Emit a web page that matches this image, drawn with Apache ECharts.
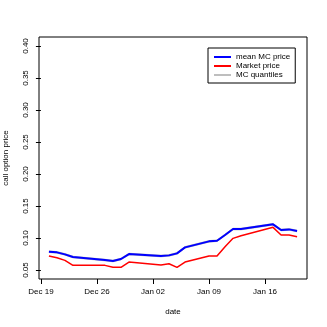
<!DOCTYPE html>
<html>
<head>
<meta charset="utf-8">
<script src="https://cdn.jsdelivr.net/npm/echarts@6/dist/echarts.min.js"></script>
<style>html,body{margin:0;padding:0;background:#fff}#c{width:327px;height:327px}</style>
</head>
<body>
<div id="c"></div>
<script>
var dates = ["2016-12-20","2016-12-21","2016-12-22","2016-12-23","2016-12-27","2016-12-28","2016-12-29","2016-12-30",
  "2017-01-03","2017-01-04","2017-01-05","2017-01-06","2017-01-09","2017-01-10","2017-01-11","2017-01-12","2017-01-13",
  "2017-01-17","2017-01-18","2017-01-19","2017-01-20"];
var meanMC = [0.0786,0.0776,0.0745,0.0703,0.0656,0.0641,0.0672,0.0750,
  0.0719,0.0729,0.0760,0.0854,0.0948,0.0958,0.1047,0.1140,0.1140,
  0.1214,0.1125,0.1135,0.1110];
var market = [0.0719,0.0693,0.0651,0.0573,0.0573,0.0542,0.0542,0.0625,
  0.0580,0.0599,0.0542,0.0625,0.0719,0.0719,0.0865,0.0995,0.1036,
  0.1167,0.1047,0.1047,0.1021];
var qUpper = [0.0798,0.0788,0.0757,0.0715,0.0668,0.0653,0.0684,0.0762,
  0.0731,0.0741,0.0772,0.0866,0.0960,0.0970,0.1059,0.1152,0.1152,
  0.1226,0.1137,0.1147,0.1122];
var qLower = [0.0774,0.0764,0.0733,0.0691,0.0644,0.0629,0.0660,0.0738,
  0.0707,0.0717,0.0748,0.0842,0.0936,0.0946,0.1035,0.1128,0.1128,
  0.1202,0.1113,0.1123,0.1098];
var xTickDates = ["2016-12-19","2016-12-26","2017-01-02","2017-01-09","2017-01-16"];
var xTickLabels = ["Dec 19","Dec 26","Jan 02","Jan 09","Jan 16"];
var yTicks = [0.05,0.10,0.15,0.20,0.25,0.30,0.35,0.40];

var origin = Date.UTC(2016,11,19);
function dayOf(s){var p=s.split('-');return (Date.UTC(+p[0],+p[1]-1,+p[2])-origin)/86400000;}
var xs = dates.map(dayOf);
var xTickVals = xTickDates.map(dayOf);
function pairs(arr){return arr.map(function(v,i){return [xs[i],v];});}
var span = xs[xs.length-1]-xs[0];
var xmin = xs[0]-0.04*span, xmax = xs[xs.length-1]+0.04*span;
var ymin = 0.05-0.04*0.35, ymax = 0.40+0.04*0.35;

var font = 'Liberation Sans, Arial, sans-serif';
var chart = echarts.init(document.getElementById('c'), null, {renderer:'canvas'});
chart.setOption({
  animation:false,
  backgroundColor:'#fff',
  grid:{left:39,right:20,top:37,bottom:48,show:true,borderColor:'#000',borderWidth:1,backgroundColor:'transparent',
    containLabel:false,outerBoundsMode:'none'},
  xAxis:{type:'value',min:xmin,max:xmax,
    name:'date',nameLocation:'middle',nameGap:29,nameTextStyle:{fontFamily:font,fontSize:8,color:'#000'},
    axisLine:{show:false},splitLine:{show:false},
    axisTick:{show:true,length:5,inside:false,lineStyle:{color:'#000'},customValues:xTickVals},
    axisLabel:{fontFamily:font,fontSize:8,color:'#000',margin:9,customValues:xTickVals,
      formatter:function(v){var i=xTickVals.indexOf(v);return i>=0?xTickLabels[i]:'';}}
  },
  yAxis:{type:'value',min:ymin,max:ymax,
    name:'call option price',nameLocation:'middle',nameGap:29,nameRotate:90,nameTextStyle:{fontFamily:font,fontSize:8,color:'#000'},
    axisLine:{show:false},splitLine:{show:false},
    axisTick:{show:true,length:5,lineStyle:{color:'#000'},customValues:yTicks},
    axisLabel:{fontFamily:font,fontSize:8,color:'#000',rotate:90,margin:9,customValues:yTicks,
      formatter:function(v){return v.toFixed(2);}}
  },
  legend:{orient:'vertical',left:208,top:48,width:86,padding:[5,5,4,6],
    borderColor:'#000',borderWidth:1,itemGap:1,itemWidth:17,itemHeight:2,icon:'rect',
    textStyle:{fontFamily:font,fontSize:8,color:'#000',padding:[0,0,0,0]},
    data:['mean MC price','Market price','MC quantiles']},
  series:[
    {name:'MC quantiles',type:'line',data:pairs(qUpper),symbol:'none',lineStyle:{color:'#BEBEBE',width:1},itemStyle:{color:'#BEBEBE'}},
    {name:'MC quantiles',type:'line',data:pairs(qLower),symbol:'none',lineStyle:{color:'#BEBEBE',width:1},itemStyle:{color:'#BEBEBE'}},
    {name:'mean MC price',type:'line',data:pairs(meanMC),symbol:'none',lineStyle:{color:'#0000FF',width:2},itemStyle:{color:'#0000FF'}},
    {name:'Market price',type:'line',data:pairs(market),symbol:'none',lineStyle:{color:'#FF0000',width:1.5},itemStyle:{color:'#FF0000'}}
  ]
});
</script>
</body>
</html>
